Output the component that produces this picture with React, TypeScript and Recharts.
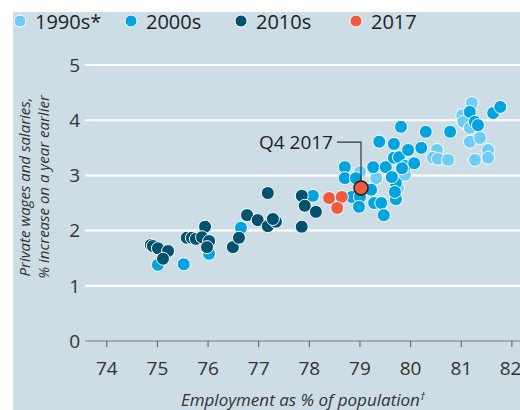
import React from 'react';
import { ScatterChart, Scatter, XAxis, YAxis, CartesianGrid } from 'recharts';

const FONT = '"Open Sans", sans-serif';

const X_TICKS = [74, 75, 76, 77, 78, 79, 80, 81, 82];
const Y_TICKS = [0, 1, 2, 3, 4, 5];

// employment % (x) vs private wage growth % (y)
const NINETIES = [
    { x: 79.0, y: 3.06 }, { x: 79.32, y: 2.95 }, { x: 79.73, y: 2.92 }, { x: 79.89, y: 3.01 },
    { x: 79.75, y: 2.77 }, { x: 80.52, y: 3.46 }, { x: 80.44, y: 3.32 }, { x: 80.54, y: 3.3 },
    { x: 80.74, y: 3.28 }, { x: 81.02, y: 4.09 }, { x: 81.21, y: 4.31 }, { x: 81.04, y: 3.97 },
    { x: 81.17, y: 3.86 }, { x: 81.17, y: 3.61 }, { x: 81.37, y: 3.68 }, { x: 81.53, y: 3.46 },
    { x: 81.27, y: 3.28 }, { x: 81.53, y: 3.32 },
];

const NOUGHTIES = [
    { x: 75.01, y: 1.38 }, { x: 75.52, y: 1.39 }, { x: 76.02, y: 1.58 }, { x: 76.65, y: 2.05 },
    { x: 78.07, y: 2.63 }, { x: 78.7, y: 3.15 }, { x: 78.7, y: 2.95 }, { x: 78.92, y: 2.95 },
    { x: 79.26, y: 3.15 }, { x: 79.22, y: 2.74 }, { x: 78.84, y: 2.61 }, { x: 79.0, y: 2.61 },
    { x: 78.98, y: 2.43 }, { x: 79.28, y: 2.5 }, { x: 79.42, y: 2.5 }, { x: 79.47, y: 2.28 },
    { x: 79.38, y: 3.61 }, { x: 79.67, y: 3.57 }, { x: 79.81, y: 3.88 }, { x: 79.51, y: 3.15 },
    { x: 79.67, y: 3.32 }, { x: 79.77, y: 3.33 }, { x: 79.95, y: 3.46 }, { x: 79.89, y: 3.17 },
    { x: 80.07, y: 3.22 }, { x: 80.21, y: 3.5 }, { x: 79.83, y: 3.13 }, { x: 79.71, y: 2.86 },
    { x: 79.71, y: 2.57 }, { x: 80.3, y: 3.79 }, { x: 80.78, y: 3.79 }, { x: 81.17, y: 4.15 },
    { x: 81.27, y: 3.97 }, { x: 81.33, y: 3.91 }, { x: 81.63, y: 4.13 }, { x: 81.77, y: 4.24 },
    { x: 79.69, y: 2.7 }, { x: 79.63, y: 2.97 },
];

const TENS = [
    { x: 74.87, y: 1.74 }, { x: 74.91, y: 1.72 }, { x: 75.01, y: 1.68 }, { x: 75.21, y: 1.63 },
    { x: 75.11, y: 1.49 }, { x: 75.58, y: 1.87 }, { x: 75.68, y: 1.87 }, { x: 75.76, y: 1.85 },
    { x: 75.94, y: 2.07 }, { x: 75.88, y: 1.88 }, { x: 76.02, y: 1.81 }, { x: 75.98, y: 1.7 },
    { x: 76.49, y: 1.7 }, { x: 76.61, y: 1.87 }, { x: 76.77, y: 2.28 }, { x: 76.98, y: 2.19 },
    { x: 77.18, y: 2.08 }, { x: 77.34, y: 2.16 }, { x: 77.28, y: 2.21 }, { x: 77.18, y: 2.68 },
    { x: 77.85, y: 2.63 }, { x: 77.91, y: 2.45 }, { x: 78.13, y: 2.34 }, { x: 77.85, y: 2.07 },
];

const YEAR_2017 = [{ x: 78.39, y: 2.59 }, { x: 78.64, y: 2.61 }, { x: 78.55, y: 2.41 }];
const Q4_2017 = [{ x: 79.02, y: 2.77 }];

const SERIES = [
    { name: '1990s*', color: '#6ecdf5', data: NINETIES, width: 111 },
    { name: '2000s', color: '#00a5df', data: NOUGHTIES, width: 110 },
    { name: '2010s', color: '#00526f', data: TENS, width: 115 },
    { name: '2017', color: '#f15a3e', data: YEAR_2017, width: 80 },
];

const dot = (color: string) => (props: any) => (
    <circle cx={props.cx} cy={props.cy} r={6.5} fill={color} stroke="#fff" strokeWidth={1} />
);

const Q4Marker = (props: any) => {
    const { cx, cy } = props;
    return (
        <g>
            <polyline points={`${cx - 24},${cy - 46} ${cx},${cy - 46} ${cx},${cy - 7}`} fill="none" stroke="#333" strokeWidth={1.2} />
            <text x={cx - 28} y={cy - 46} textAnchor="end" dominantBaseline="central" fontFamily={FONT} fontSize={19} fill="#222">Q4 2017</text>
            <circle cx={cx} cy={cy} r={7} fill="#f15a3e" stroke="#222" strokeWidth={1.5} />
        </g>
    );
};

const YTitle = () => (
    <g fontFamily={FONT} fontStyle="italic" fontSize={15} fill="#333" textAnchor="middle">
        <text x={30} y={187} transform="rotate(-90, 30, 187)">Private wages and salaries,</text>
        <text x={49} y={187} transform="rotate(-90, 49, 187)">% increase on a year earlier</text>
    </g>
);

const XTitle = () => (
    <text x={303} y={406} fontFamily={FONT} fontStyle="italic" fontSize={17} fill="#333" textAnchor="middle">
        Employment as % of population<tspan dy={-6} fontSize={11}>†</tspan>
    </text>
);

export default function App() {
    return (
        <div style={{ position: 'absolute', left: 0, top: 0, width: 520, height: 410, background: '#fff', overflow: 'hidden' }}>
            <div style={{ position: 'absolute', left: 13, top: 12, width: 507, height: 398, background: '#cddde6' }} />
            <div style={{ position: 'absolute', left: 13, top: 11, height: 20, display: 'flex', alignItems: 'center', fontFamily: FONT, fontSize: 20, color: '#222' }}>
                {SERIES.map((s) => (
                    <div key={s.name} style={{ display: 'flex', alignItems: 'center', width: s.width }}>
                        <svg width={14} height={14}>
                            <circle cx={7} cy={7} r={6} fill={s.color} stroke="#fff" strokeWidth={1} />
                        </svg>
                        <span style={{ marginLeft: 8 }}>{s.name}</span>
                    </div>
                ))}
            </div>
            <div style={{ position: 'absolute', left: 0, top: 0 }}>
                <ScatterChart width={520} height={410} margin={{ top: 65, right: 0, bottom: 0, left: 0 }}>
                    <CartesianGrid vertical={false} stroke="#fff" strokeWidth={2} />
                    <XAxis
                        type="number"
                        dataKey="x"
                        domain={[73.57, 82.16]}
                        allowDataOverflow
                        ticks={X_TICKS}
                        height={69}
                        axisLine={{ stroke: '#555', strokeWidth: 1.2 }}
                        tickLine={{ stroke: '#555' }}
                        tickSize={6}
                        tickMargin={15}
                        tick={{ fontFamily: FONT, fontSize: 19, fill: '#333' }}
                        label={<XTitle />}
                    />
                    <YAxis
                        type="number"
                        dataKey="y"
                        domain={[0, 5]}
                        ticks={Y_TICKS}
                        width={85}
                        axisLine={false}
                        tickLine={false}
                        tickSize={0}
                        tickMargin={5}
                        tick={{ fontFamily: FONT, fontSize: 19, fill: '#333' }}
                        label={<YTitle />}
                    />
                    {SERIES.map((s) => (
                        <Scatter key={s.name} name={s.name} data={s.data} fill={s.color} shape={dot(s.color)} isAnimationActive={false} />
                    ))}
                    <Scatter name="Q4 2017" data={Q4_2017} fill="#f15a3e" shape={Q4Marker} isAnimationActive={false} />
                </ScatterChart>
            </div>
        </div>
    );
}
